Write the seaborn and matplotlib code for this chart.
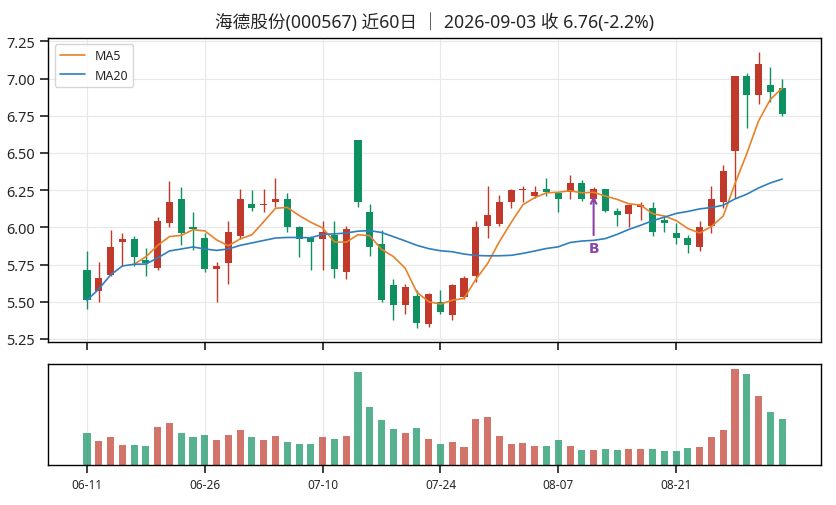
import numpy as np
import pandas as pd
import matplotlib
matplotlib.use("Agg")
import matplotlib.pyplot as plt
import seaborn as sns

# ─── Data ─────────────────────────────────────────────────────────────────────
opens = [5.71, 5.57, 5.68, 5.90, 5.92, 5.78, 5.73, 6.03, 6.19, 6.00,
         5.93, 5.72, 5.76, 5.94, 6.16, 6.15, 6.17, 6.19, 6.00, 5.93,
         5.92, 5.95, 5.70, 6.59, 6.10, 5.89, 5.61, 5.48, 5.54, 5.35,
         5.50, 5.41, 5.53, 5.67, 6.01, 6.02, 6.17, 6.25, 6.21, 6.26,
         6.23, 6.24, 6.30, 6.19, 6.26, 6.11, 6.09, 6.14, 6.13, 6.05,
         5.96, 5.93, 5.87, 6.01, 6.17, 6.51, 7.02, 6.89, 6.96, 6.94]
closes = [5.51, 5.66, 5.87, 5.92, 5.80, 5.76, 6.04, 6.17, 5.96, 5.99,
          5.72, 5.74, 5.97, 6.19, 6.13, 6.16, 6.19, 6.00, 5.92, 5.90,
          5.97, 5.72, 5.99, 6.17, 5.87, 5.51, 5.48, 5.60, 5.36, 5.55,
          5.43, 5.61, 5.66, 6.00, 6.08, 6.17, 6.25, 6.26, 6.24, 6.24,
          6.19, 6.30, 6.19, 6.26, 6.11, 6.08, 6.15, 6.15, 5.97, 6.03,
          5.93, 5.88, 6.00, 6.19, 6.38, 7.02, 6.89, 7.10, 6.91, 6.76]
highs = [5.84, 5.77, 5.98, 5.96, 5.94, 5.86, 6.07, 6.31, 6.27, 6.10,
         5.96, 5.77, 6.04, 6.26, 6.25, 6.26, 6.33, 6.23, 6.01, 5.94,
         6.04, 6.04, 6.01, 6.59, 6.16, 5.98, 5.65, 5.62, 5.58, 5.56,
         5.58, 5.62, 5.67, 6.04, 6.28, 6.22, 6.26, 6.28, 6.28, 6.33,
         6.23, 6.35, 6.32, 6.27, 6.26, 6.13, 6.15, 6.17, 6.17, 6.08,
         6.03, 5.95, 6.04, 6.28, 6.42, 7.02, 7.04, 7.18, 7.08, 7.00]
lows = [5.45, 5.50, 5.67, 5.74, 5.74, 5.67, 5.71, 6.00, 5.88, 5.85,
        5.70, 5.50, 5.62, 5.92, 6.11, 6.10, 6.14, 5.97, 5.80, 5.71,
        5.71, 5.66, 5.65, 6.14, 5.81, 5.50, 5.38, 5.42, 5.32, 5.33,
        5.42, 5.38, 5.52, 5.63, 5.93, 6.01, 6.13, 6.17, 6.20, 6.21,
        6.10, 6.19, 6.18, 6.17, 6.10, 6.01, 6.00, 6.05, 5.94, 5.97,
        5.89, 5.83, 5.84, 5.96, 6.13, 6.20, 6.67, 6.83, 6.84, 6.75]
volumes = [96, 73, 84, 60, 60, 57, 114, 126, 96, 84,
           90, 75, 90, 105, 84, 75, 87, 69, 63, 63,
           84, 78, 87, 282, 177, 135, 108, 96, 111, 78,
           63, 69, 54, 138, 144, 87, 63, 66, 57, 57,
           75, 57, 45, 45, 48, 45, 48, 48, 48, 42,
           42, 51, 54, 84, 105, 291, 276, 210, 159, 138]

tick_pos = [0, 10, 20, 30, 40, 50]
tick_labels = ['06-11', '06-26', '07-10', '07-24', '08-07', '08-21']

signal_idx = 43
signal_label = 'B'

title = '海德股份(000567) 近60日 ｜ 2026-09-03 收 6.76(-2.2%)'

# ─── Style ────────────────────────────────────────────────────────────────────
sns.set_theme(style='ticks')
plt.rcParams['font.family'] = ['Noto Sans', 'Noto Sans CJK SC', 'DejaVu Sans']
plt.rcParams['axes.unicode_minus'] = False

RED = '#c0392b'
GREEN = '#0f9060'
ORANGE = '#e8822a'
BLUE = '#2f7fbd'
PURPLE = '#8e44ad'

df = pd.DataFrame({'open': opens, 'close': closes, 'high': highs,
                   'low': lows, 'volume': volumes})
df['x'] = np.arange(len(df))
df['ma5'] = df['close'].rolling(5).mean()
df['ma20'] = df['close'].rolling(20, min_periods=1).mean()
naik = df['close'] >= df['open']
warna = np.where(naik, RED, GREEN)

fig = plt.figure(figsize=(8.36, 5.06), dpi=100)
ax = fig.add_axes([0.0578, 0.3215, 0.924, 0.6014])
ax_v = fig.add_axes([0.0578, 0.0796, 0.924, 0.1984], sharex=ax)

# Candles
ax.vlines(df['x'], df['low'], df['high'], colors=warna, linewidth=1, zorder=2)
body_bottom = np.minimum(df['open'], df['close'])
body_h = np.maximum(np.abs(df['close'] - df['open']), 0.006)
ax.bar(df['x'], body_h, bottom=body_bottom, width=0.6, color=warna,
       linewidth=0, zorder=3)

# Moving averages
sns.lineplot(data=df, x='x', y='ma5', ax=ax, color=ORANGE, linewidth=1.2,
             label='MA5', zorder=4)
sns.lineplot(data=df, x='x', y='ma20', ax=ax, color=BLUE, linewidth=1.2,
             label='MA20', zorder=4)

# Signal
ax.annotate(signal_label, xy=(signal_idx, 6.23), xytext=(signal_idx, 5.86),
            ha='center', va='center', color=PURPLE, fontsize=10,
            fontweight='bold', family=['DejaVu Sans'],
            arrowprops=dict(arrowstyle='->', color=PURPLE, lw=1.5))

ax.set_title(title, fontsize=12.7, pad=8)
ax.set_xlabel('')
ax.set_ylabel('')
ax.set_yticks([5.25, 5.5, 5.75, 6.0, 6.25, 6.5, 6.75, 7.0, 7.25])
ax.yaxis.set_major_formatter(matplotlib.ticker.FormatStrFormatter('%.2f'))
ax.tick_params(axis='y', labelsize=10.5)
ax.tick_params(axis='x', labelbottom=False)
ax.grid(True, color='#e8e8e8', linewidth=0.8)
ax.legend(loc='upper left', fontsize=9)

# Volume
ax_v.bar(df['x'], df['volume'], width=0.6, color=warna, alpha=0.7,
         linewidth=0)
ax_v.set_yticks([])
ax_v.set_xticks(tick_pos)
ax_v.set_xticklabels(tick_labels)
ax_v.tick_params(axis='x', labelsize=8.5)
ax_v.grid(True, axis='x', color='#e8e8e8', linewidth=0.8)
ax_v.set_xlabel('')
ax_v.set_ylabel('')

for a in (ax, ax_v):
    for s in a.spines.values():
        s.set_visible(True)
        s.set_color('black')
        s.set_linewidth(1)

fig.savefig('out.png', dpi=100)
